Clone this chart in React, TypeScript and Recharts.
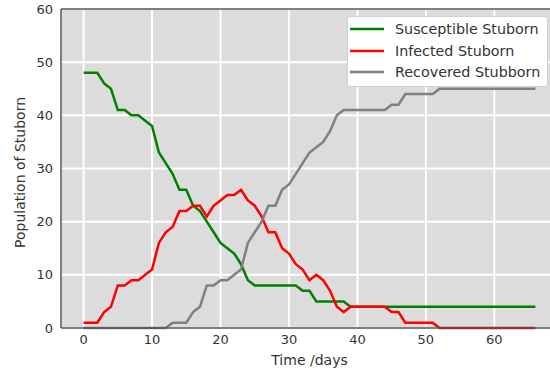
import { CartesianGrid, Legend, Line, LineChart, ReferenceLine, XAxis, YAxis } from "recharts"

const FONT = "'DejaVu Sans', sans-serif"

const days = Array.from({ length: 67 }, (_, i) => i)

// values, one per day 0..66
const susceptible = [
  48, 48, 48, 46, 45, 41, 41, 40, 40, 39, 38, 33, 31, 29, 26, 26, 23, 22, 20, 18,
  16, 15, 14, 12, 9, 8, 8, 8, 8, 8, 8, 8, 7, 7, 5, 5, 5, 5, 5, 4,
  4, 4, 4, 4, 4, 4, 4, 4, 4, 4, 4, 4, 4, 4, 4, 4, 4, 4, 4, 4,
  4, 4, 4, 4, 4, 4, 4,
]
const infected = [
  1, 1, 1, 3, 4, 8, 8, 9, 9, 10, 11, 16, 18, 19, 22, 22, 23, 23, 21, 23,
  24, 25, 25, 26, 24, 23, 21, 18, 18, 15, 14, 12, 11, 9, 10, 9, 7, 4, 3, 4,
  4, 4, 4, 4, 4, 3, 3, 1, 1, 1, 1, 1, 0, 0, 0, 0, 0, 0, 0, 0,
  0, 0, 0, 0, 0, 0, 0,
]
const recovered = [
  0, 0, 0, 0, 0, 0, 0, 0, 0, 0, 0, 0, 0, 1, 1, 1, 3, 4, 8, 8,
  9, 9, 10, 11, 16, 18, 20, 23, 23, 26, 27, 29, 31, 33, 34, 35, 37, 40, 41, 41,
  41, 41, 41, 41, 41, 42, 42, 44, 44, 44, 44, 44, 45, 45, 45, 45, 45, 45, 45, 45,
  45, 45, 45, 45, 45, 45, 45,
]

const xTicks = [0, 10, 20, 30, 40, 50, 60]
const yTicks = [0, 10, 20, 30, 40, 50, 60]

const SERIES = [
  { key: "susceptible", label: "Susceptible Stuborn", color: "#008000" },
  { key: "infected", label: "Infected Stuborn", color: "#ff0000" },
  { key: "recovered", label: "Recovered Stubborn", color: "#808080" },
]

const data = days.map((d, i) => ({
  day: d,
  susceptible: susceptible[i],
  infected: infected[i],
  recovered: recovered[i],
}))

const tickStyle = { fontSize: 13, fill: "#333", fontFamily: FONT }

function LegendBox() {
  return (
    <div
      style={{
        background: "#fff",
        border: "1px solid #d0d0d0",
        borderRadius: 3,
        padding: "1px 4px 3px 2px",
        fontFamily: FONT,
        fontSize: 14.3,
        color: "#333",
        boxSizing: "border-box",
        width: 201,
      }}
    >
      {SERIES.map((s) => (
        <div key={s.key} style={{ display: "flex", alignItems: "center", height: 21.7 }}>
          <svg width={34} height={6}>
            <line x1={0} y1={3} x2={34} y2={3} stroke={s.color} strokeWidth={2.5} />
          </svg>
          <span style={{ marginLeft: 11, whiteSpace: "nowrap" }}>{s.label}</span>
        </div>
      ))}
    </div>
  )
}

export default function App() {
  return (
    <div style={{ position: "absolute", left: 0, top: 0, width: 550, height: 374, overflow: "hidden", background: "#fff" }}>
      <LineChart width={560} height={374} data={data} margin={{ top: 9, right: 2, bottom: 0, left: 0 }}>
        <CartesianGrid fill="#dcdcdc" stroke="#fff" strokeWidth={2} />
        <XAxis
          dataKey="day"
          type="number"
          domain={[-3.3, 69.3]}
          ticks={xTicks}
          height={46}
          tickLine={false}
          tickSize={6}
          tickMargin={1}
          tick={tickStyle}
          axisLine={{ stroke: "#555", strokeWidth: 1.5 }}
          label={{
            content: ({ viewBox }: any) => (
              <text
                x={viewBox.x + viewBox.width / 2}
                y={viewBox.y + 37}
                textAnchor="middle"
                fontSize={14}
                fill="#333"
                fontFamily={FONT}
              >
                Time /days
              </text>
            ),
          }}
        />
        <YAxis
          type="number"
          domain={[0, 60]}
          ticks={yTicks}
          width={61}
          tickLine={false}
          tickSize={6}
          tickMargin={2}
          tick={tickStyle}
          axisLine={{ stroke: "#555", strokeWidth: 1.5 }}
          label={{
            content: ({ viewBox }: any) => {
              const cx = 20
              const cy = viewBox.y + viewBox.height / 2 + 4
              return (
                <text
                  x={cx}
                  y={cy}
                  transform={`rotate(-90 ${cx} ${cy})`}
                  textAnchor="middle"
                  dominantBaseline="central"
                  fontSize={14}
                  fill="#333"
                  fontFamily={FONT}
                >
                  Population of Stuborn
                </text>
              )
            },
          }}
        />
        <ReferenceLine y={60} stroke="#555" strokeWidth={1.5} />
        {SERIES.map((s) => (
          <Line
            key={s.key}
            dataKey={s.key}
            name={s.label}
            type="linear"
            stroke={s.color}
            strokeWidth={2.5}
            dot={false}
            activeDot={false}
            isAnimationActive={false}
          />
        ))}
        <Legend
          layout="vertical"
          align="center"
          verticalAlign="middle"
          content={() => <LegendBox />}
          wrapperStyle={{ top: 16, left: 347, width: 201, height: "auto" }}
        />
      </LineChart>
    </div>
  )
}
